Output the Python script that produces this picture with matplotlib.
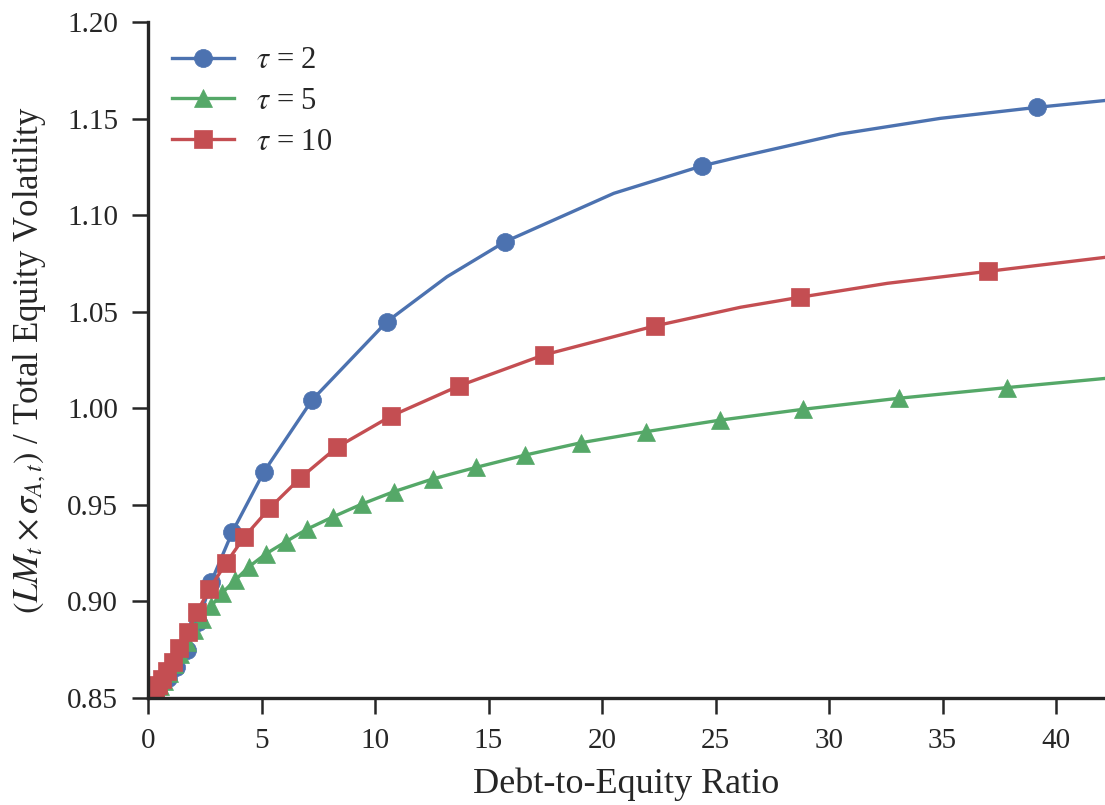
import numpy as np
import matplotlib
matplotlib.use("Agg")
import matplotlib.pyplot as plt

# ---------------- data ----------------
tau_labels = [r"$\tau$ = 2", r"$\tau$ = 5", r"$\tau$ = 10"]

tau2_marker_x = [0.45, 0.90, 1.23, 1.71, 2.22, 2.78, 3.72, 5.11, 7.23, 10.52, 15.74, 24.41, 39.15]
tau2_marker_y = [0.8555, 0.8602, 0.8662, 0.8749, 0.8895, 0.9100, 0.9361, 0.9672, 1.0043, 1.0448, 1.0863, 1.1255, 1.1558]
tau2_line_x = [0.25, 13.17, 20.52, 26.10, 30.50, 34.90, 42.20]
tau2_line_y = [0.8530, 1.0681, 1.1113, 1.1303, 1.1420, 1.1501, 1.1594]

tau5_marker_x = [0.40, 0.55, 0.72, 0.92, 1.14, 1.40, 1.70, 2.02, 2.38, 2.78, 3.25, 3.84, 4.45, 5.19,
                 6.07, 7.02, 8.17, 9.42, 10.82, 12.54, 14.45, 16.62, 19.09, 21.94, 25.22, 28.87, 33.08, 37.83]
tau5_marker_y = [0.8535, 0.8560, 0.8590, 0.8630, 0.8675, 0.8730, 0.8790, 0.8850, 0.8910, 0.8975, 0.9042, 0.9110, 0.9180, 0.9246,
                 0.9309, 0.9375, 0.9439, 0.9504, 0.9568, 0.9634, 0.9694, 0.9758, 0.9822, 0.9879, 0.9939, 0.9995, 1.0052, 1.0107]
tau5_line_x = [42.20]
tau5_line_y = [1.0155]

tau10_marker_x = [0.30, 0.45, 0.63, 0.84, 1.09, 1.38, 1.75, 2.17, 2.70, 3.43, 4.25, 5.35, 6.70, 8.32,
                  10.71, 13.68, 17.43, 22.32, 28.72, 37.00]
tau10_marker_y = [0.8545, 0.8568, 0.8598, 0.8641, 0.8688, 0.8757, 0.8843, 0.8947, 0.9063, 0.9197, 0.9335, 0.9482, 0.9638, 0.9798,
                  0.9960, 1.0115, 1.0276, 1.0426, 1.0575, 1.0709]
tau10_line_x = [26.10, 32.57, 42.20]
tau10_line_y = [1.0523, 1.0647, 1.0782]

x_ticks = [0, 5, 10, 15, 20, 25, 30, 35, 40]
y_ticks = [0.85, 0.90, 0.95, 1.00, 1.05, 1.10, 1.15, 1.20]

# ---------------- style ----------------
plt.rcParams["font.family"] = ["Liberation Serif", "DejaVu Serif"]
plt.rcParams["mathtext.fontset"] = "stix"
text_color = "#262626"
colors = ["#4C72B0", "#55A868", "#C44E52"]
markers = ["o", "^", "s"]
msizes = [13, 13, 13]

fig = plt.figure(figsize=(11.05, 8.05), dpi=100)
ax = fig.add_axes([148 / 1105, 1 - 698 / 805, 1 - 148 / 1105, (698 - 22) / 805])

series = [
    (tau2_marker_x, tau2_marker_y, tau2_line_x, tau2_line_y),
    (tau5_marker_x, tau5_marker_y, tau5_line_x, tau5_line_y),
    (tau10_marker_x, tau10_marker_y, tau10_line_x, tau10_line_y),
]

for (mx, my, lx, ly), c, m, ms, lab in zip(series, colors, markers, msizes, tau_labels):
    xs = np.array(list(mx) + list(lx))
    ys = np.array(list(my) + list(ly))
    is_mark = np.array([True] * len(mx) + [False] * len(lx))
    order = np.argsort(xs)
    ax.plot(xs[order], ys[order], color=c, lw=2.4, marker=m, ms=ms,
            markevery=list(is_mark[order]), mec=c, mfc=c, mew=0.5, label=lab,
            solid_joinstyle="round")

ax.set_xlim(0, (1105 - 148) / 22.7)
ax.set_ylim(0.85, 1.20)
ax.set_xticks(x_ticks)
ax.set_xticklabels([str(t) for t in x_ticks])
ax.set_yticks(y_ticks)
ax.set_yticklabels([f"{t:.2f}" for t in y_ticks])

for side in ["top", "right"]:
    ax.spines[side].set_visible(False)
for side in ["left", "bottom"]:
    ax.spines[side].set_linewidth(2.4)
    ax.spines[side].set_color(text_color)

ax.tick_params(axis="both", which="major", direction="out", length=11.5, width=1.8,
               color=text_color, labelcolor=text_color, labelsize=21, pad=10)

ax.set_xlabel("Debt-to-Equity Ratio", fontsize=26, color=text_color, labelpad=10)
ax.set_ylabel(r"$(LM_t \times \sigma_{A,t})$ / Total Equity Volatility", fontsize=25,
              color=text_color, labelpad=14)

leg = ax.legend(loc="upper left", bbox_to_anchor=(0.0, 1.0), frameon=False,
                fontsize=22, handlelength=2.0, handletextpad=0.75, labelspacing=0.38,
                borderaxespad=0.4)
for t in leg.get_texts():
    t.set_color(text_color)

fig.savefig("out.png", dpi=100)
